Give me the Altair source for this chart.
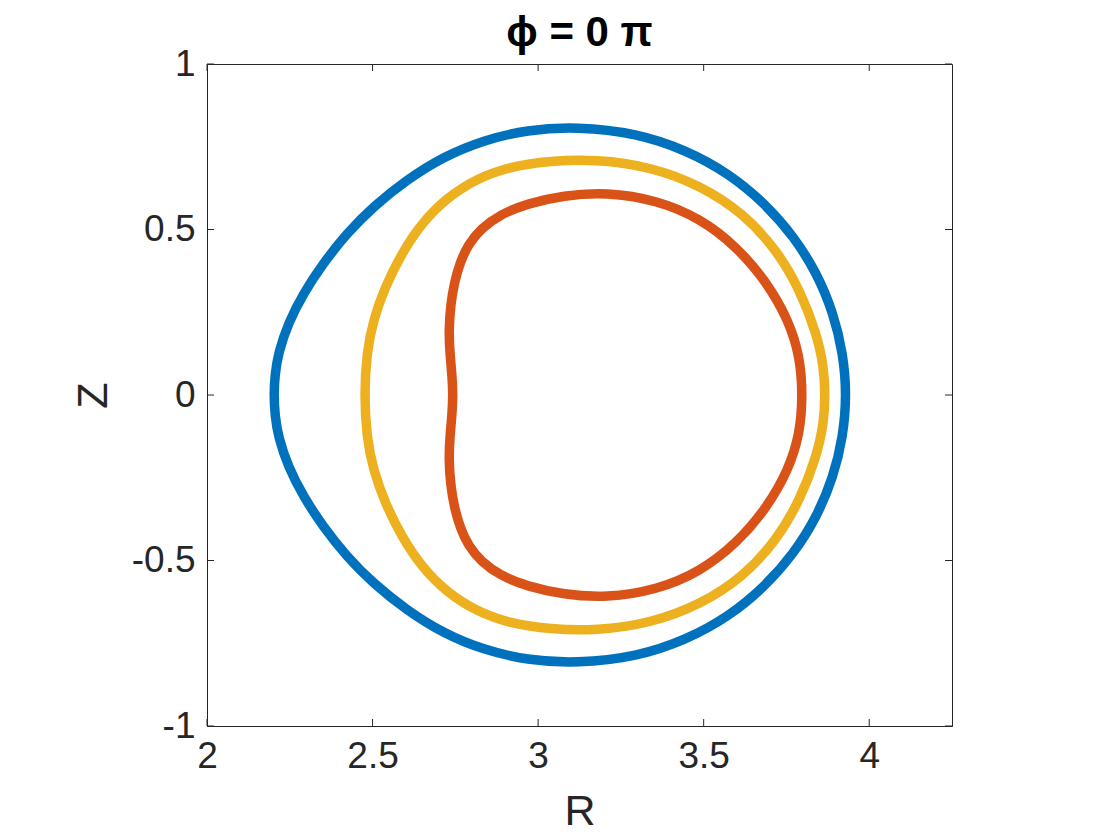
import altair as alt
import pandas as pd

# ---- data (closed curves, counter-clockwise from the outboard midplane) ----
blue_R = [3.932, 3.921, 3.892, 3.842, 3.773, 3.685, 3.575, 3.447, 3.298, 3.117,
          2.966, 2.835, 2.714, 2.603, 2.502, 2.422, 2.351, 2.291, 2.245, 2.215, 2.205, 2.202,
          2.205, 2.215, 2.245, 2.291, 2.351, 2.422, 2.502, 2.603, 2.714, 2.835, 2.966,
          3.117, 3.298, 3.447, 3.575, 3.685, 3.773, 3.842, 3.892, 3.921]
blue_Z = [0.000, 0.126, 0.247, 0.368, 0.478, 0.579, 0.670, 0.740, 0.791, 0.811,
          0.801, 0.770, 0.720, 0.650, 0.569, 0.488, 0.398, 0.307, 0.217, 0.126, 0.060, 0.000,
          -0.060, -0.126, -0.217, -0.307, -0.398, -0.488, -0.569, -0.650, -0.720, -0.770, -0.801,
          -0.811, -0.791, -0.740, -0.670, -0.579, -0.478, -0.368, -0.247, -0.126]

yellow_R = [3.867, 3.863, 3.841, 3.791, 3.721, 3.620, 3.489, 3.338, 3.177,
            3.036, 2.915, 2.815, 2.724, 2.648, 2.588, 2.538, 2.502, 2.482, 2.475,
            2.482, 2.502, 2.538, 2.588, 2.648, 2.724, 2.815, 2.915, 3.036,
            3.177, 3.338, 3.489, 3.620, 3.721, 3.791, 3.841, 3.863]
yellow_Z = [0.000, 0.085, 0.186, 0.317, 0.438, 0.549, 0.634, 0.690, 0.712,
            0.708, 0.690, 0.654, 0.596, 0.519, 0.428, 0.327, 0.227, 0.126, 0.000,
            -0.126, -0.227, -0.327, -0.428, -0.519, -0.596, -0.654, -0.690, -0.708,
            -0.712, -0.690, -0.634, -0.549, -0.438, -0.317, -0.186, -0.085]

red_R = [3.799, 3.791, 3.756, 3.690, 3.600, 3.489, 3.358, 3.207,
         3.076, 2.966, 2.885, 2.828, 2.789, 2.764, 2.747, 2.736, 2.730, 2.734, 2.740, 2.743,
         2.740, 2.734, 2.730, 2.736, 2.747, 2.764, 2.789, 2.828, 2.885, 2.966, 3.076,
         3.207, 3.358, 3.489, 3.600, 3.690, 3.756, 3.791]
red_Z = [0.000, 0.116, 0.227, 0.342, 0.448, 0.534, 0.589, 0.613,
         0.603, 0.578, 0.545, 0.503, 0.455, 0.400, 0.340, 0.275, 0.195, 0.120, 0.060, 0.000,
         -0.060, -0.120, -0.195, -0.275, -0.340, -0.400, -0.455, -0.503, -0.545, -0.578, -0.603,
         -0.613, -0.589, -0.534, -0.448, -0.342, -0.227, -0.116]

curve_names = ["c1", "c2", "c3"]
curve_colors = ["#0072BD", "#D95319", "#EDB120"]

x_ticks = [2, 2.5, 3, 3.5, 4]
y_ticks = [-1, -0.5, 0, 0.5, 1]

rows = []
for name, Rs, Zs in [("c1", blue_R, blue_Z), ("c2", red_R, red_Z), ("c3", yellow_R, yellow_Z)]:
    for i, (r, z) in enumerate(zip(Rs, Zs)):
        rows.append({"curve": name, "R": r, "Z": z, "i": i})
df = pd.DataFrame(rows)

W, H = 745, 662
FONT = "Liberation Sans"
AX = "#262626"

xs = alt.Scale(domain=[2, 4.25], nice=False, zero=False)
ys = alt.Scale(domain=[-1, 1], nice=False, zero=False)

lines = alt.Chart(df).mark_line(strokeWidth=9.5, interpolate="basis-closed").encode(
    x=alt.X("R:Q", scale=xs, title="R",
            axis=alt.Axis(values=x_ticks, tickSize=0, labelPadding=12, titlePadding=16, grid=False,
                          labelFlush=False, labelExpr="toString(datum.value)")),
    y=alt.Y("Z:Q", scale=ys, title="Z",
            axis=alt.Axis(values=y_ticks, tickSize=0, labelPadding=12, titlePadding=16, grid=False,
                          labelFlush=False, labelExpr="toString(datum.value)")),
    color=alt.Color("curve:N", scale=alt.Scale(domain=curve_names, range=curve_colors), legend=None),
    order=alt.Order("i:Q"),
)

xt = pd.DataFrame({"v": x_ticks})
yt = pd.DataFrame({"v": y_ticks})
tk = dict(color=AX, strokeWidth=1)
tick_b = alt.Chart(xt).mark_rule(**tk).encode(x=alt.X("v:Q", scale=xs), y=alt.value(H), y2=alt.value(H - 7))
tick_t = alt.Chart(xt).mark_rule(**tk).encode(x=alt.X("v:Q", scale=xs), y=alt.value(0), y2=alt.value(7))
tick_l = alt.Chart(yt).mark_rule(**tk).encode(y=alt.Y("v:Q", scale=ys), x=alt.value(0), x2=alt.value(7))
tick_r = alt.Chart(yt).mark_rule(**tk).encode(y=alt.Y("v:Q", scale=ys), x=alt.value(W), x2=alt.value(W - 7))

chart = alt.layer(lines, tick_b, tick_t, tick_l, tick_r).properties(
    width=W, height=H,
    background="white",
    title=alt.Title("ϕ = 0 π", fontSize=42, fontWeight="bold", font=FONT, color="#000000", offset=2, dy=12),
    autosize=alt.AutoSizeParams(type="none"),
    padding={"left": 199, "top": 56, "right": 150, "bottom": 108},
).configure_view(stroke=AX, strokeWidth=1).configure_axis(
    labelFont=FONT, titleFont=FONT, labelFontSize=37, titleFontSize=43, labelColor=AX, titleColor=AX,
    titleFontWeight="normal", domainColor=AX, domainWidth=1,
)

chart.save("out.html", embed_options={"renderer": "svg", "actions": False})
